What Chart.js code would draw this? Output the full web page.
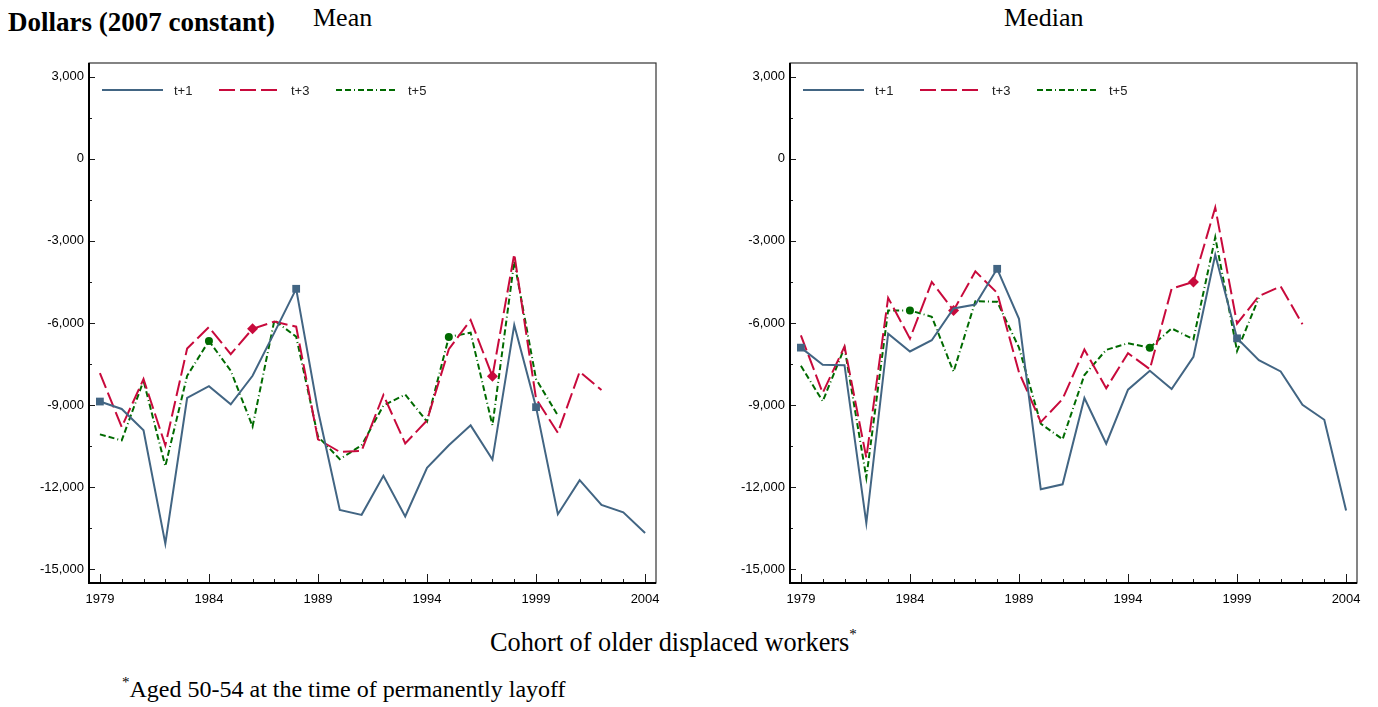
<!DOCTYPE html>
<html>
<head>
<meta charset="utf-8">
<script src="https://cdn.jsdelivr.net/npm/chart.js@4.4.1/dist/chart.umd.min.js"></script>
<style>
  html, body { margin: 0; padding: 0; background: #fff; }
  body { width: 1378px; height: 707px; position: relative; overflow: hidden;
         font-family: 'Liberation Serif', 'Times New Roman', serif; color: #000; }
  .txt { position: absolute; white-space: nowrap; line-height: 1; }
  .ast { font-size: 15px; position: relative; top: -12px; }
  .box { position: absolute; top: 0; width: 689px; height: 620px; }
</style>
</head>
<body>
<div class="txt" style="left:8px;top:9px;font-size:27px;font-weight:bold;">Dollars (2007 constant)</div>
<div class="txt" style="left:313px;top:5px;font-size:26px;">Mean</div>
<div class="txt" style="left:1004px;top:5px;font-size:26px;">Median</div>

<div class="box" style="left:0"><canvas id="meanChart"></canvas></div>
<div class="box" style="left:701px"><canvas id="medianChart"></canvas></div>

<div class="txt" style="left:490px;top:630px;font-size:26.3px;">Cohort of older displaced workers<span class="ast">*</span></div>
<div class="txt" style="left:122px;top:677px;font-size:24px;"><span class="ast" style="top:-10px">*</span>Aged 50-54 at the time of permanently layoff</div>

<script>
// cohort years and axis ticks
const years = [1979, 1980, 1981, 1982, 1983, 1984, 1985, 1986, 1987, 1988, 1989, 1990, 1991,
               1992, 1993, 1994, 1995, 1996, 1997, 1998, 1999, 2000, 2001, 2002, 2003, 2004];
const xTicks = [1979, 1984, 1989, 1994, 1999, 2004];
const yTicks = [-15000, -12000, -9000, -6000, -3000, 0, 3000];
const seriesLabels = ['t+1', 't+3', 't+5'];

// Mean (t+1 to 2004, t+3 to 2002, t+5 to 2000)
const meanT1 = [-8870, -9140, -9920, -14060, -8740, -8310, -8970, -7930, -6350, -4750, -9200, -12830, -13010,
                -11580, -13070, -11290, -10470, -9740, -10990, -6075, -9075, -12985, -11740, -12645, -12920, -13670];
const meanT3 = [-7830, -9800, -8050, -10470, -6935, -6150, -7140, -6210, -5950, -6135, -10250, -10710, -10670,
                -8630, -10400, -9560, -6960, -5890, -7950, -3475, -8770, -10010, -7780, -8450];
const meanT5 = [-10070, -10290, -8110, -11230, -7930, -6655, -7745, -9780, -5905, -6500, -10150, -10975, -10470,
                -9015, -8615, -9600, -6510, -6355, -9740, -3750, -8050, -9380];

// Median
const medianT1 = [-6900, -7530, -7540, -13310, -6390, -7040, -6630, -5470, -5325, -4020, -5845, -12075, -11895,
                  -8740, -10410, -8435, -7745, -8410, -7235, -3510, -6560, -7360, -7770, -8990, -9535, -12850];
const medianT3 = [-6450, -8555, -6860, -10925, -5080, -6570, -4500, -5540, -4115, -4900, -7800, -9620, -8775,
                  -6970, -8385, -7105, -7685, -4745, -4500, -1780, -6025, -5020, -4660, -6050];
const medianT5 = [-7565, -8860, -6900, -11650, -5540, -5540, -5770, -7780, -5205, -5225, -6900, -9680, -10250,
                  -7900, -6980, -6740, -6900, -6200, -6595, -2870, -7020, -5080];

// years that carry a marker on each series
const markT1 = [1979, 1988, 1999];
const markT3 = [1986, 1997];
const markT5 = [1984, 1995];

const tickFont = { family: "'Liberation Sans', Arial, sans-serif", size: 13 };

const toPoints = vals => vals.map((v, i) => ({ x: years[i], y: v }));

// inward ticks, frame and the legend inside the plot
const frameTicks = {
    id: 'frameTicks',
    afterDraw(chart) {
        const { ctx, chartArea: a, scales: { x, y } } = chart;
        ctx.save();
        ctx.strokeStyle = '#1a1a1a';
        ctx.lineWidth = 1;
        ctx.beginPath();
        for (let yr = years[0]; yr <= years[years.length - 1]; yr++) {
            const px = Math.round(x.getPixelForValue(yr)) + 0.5;
            const len = xTicks.includes(yr) ? 9 : 4;
            ctx.moveTo(px, a.bottom);
            ctx.lineTo(px, a.bottom - len);
        }
        for (let v = yTicks[0]; v <= yTicks[yTicks.length - 1]; v += 1500) {
            const py = Math.round(y.getPixelForValue(v)) + 0.5;
            const len = yTicks.includes(v) ? 6 : 3;
            ctx.moveTo(a.left, py);
            ctx.lineTo(a.left + len, py);
        }
        ctx.stroke();

        // thin frame, heavier axis lines
        ctx.lineWidth = 1.2;
        ctx.strokeStyle = '#333';
        ctx.strokeRect(a.left, a.top, a.right - a.left, a.bottom - a.top);
        ctx.lineWidth = 2;
        ctx.strokeStyle = '#000';
        ctx.beginPath();
        ctx.moveTo(a.left, a.top);
        ctx.lineTo(a.left, a.bottom);
        ctx.lineTo(a.right, a.bottom);
        ctx.stroke();

        // legend
        const ly = a.top + 27;
        ctx.font = "13px 'Liberation Sans', Arial, sans-serif";
        ctx.textBaseline = 'middle';
        chart.data.datasets.forEach((ds, i) => {
            const lx = a.left + 13 + i * 117;
            ctx.strokeStyle = ds.borderColor;
            ctx.lineWidth = 2;
            ctx.setLineDash(ds.borderDash || []);
            ctx.beginPath();
            ctx.moveTo(lx, ly);
            ctx.lineTo(lx + 61, ly);
            ctx.stroke();
            ctx.setLineDash([]);
            ctx.fillStyle = '#222';
            ctx.fillText(ds.label, lx + 72, ly + 1);
        });
        ctx.restore();
    }
};

function makeChart(id, t1, t3, t5) {
    const canvas = document.getElementById(id);
    const mark = (list, r) => c => (c.raw && list.includes(c.raw.x)) ? r : 0;
    return new Chart(canvas.getContext('2d'), {
        type: 'line',
        data: {
            datasets: [
                {
                    label: seriesLabels[0], data: toPoints(t1),
                    borderColor: '#426583', backgroundColor: '#426583', borderWidth: 2,
                    pointStyle: 'rect', pointRadius: mark(markT1, 5.5), pointBorderWidth: 0
                },
                {
                    label: seriesLabels[1], data: toPoints(t3),
                    borderColor: '#c80a3c', backgroundColor: '#c80a3c', borderWidth: 2, borderDash: [16, 5],
                    pointStyle: 'rectRot', pointRadius: mark(markT3, 5.5), pointBorderWidth: 0
                },
                {
                    label: seriesLabels[2], data: toPoints(t5),
                    borderColor: '#006a00', backgroundColor: '#006a00', borderWidth: 2, borderDash: [6, 3, 6, 3, 1, 3],
                    pointStyle: 'circle', pointRadius: mark(markT5, 4), pointBorderWidth: 0
                }
            ]
        },
        options: {
            responsive: true,
            maintainAspectRatio: false,
            animation: false,
            events: [],
            layout: { padding: { top: 63, right: 33, bottom: 7, left: 0 }, autoPadding: false },
            elements: { line: { tension: 0 } },
            plugins: { legend: { display: false }, tooltip: { enabled: false } },
            scales: {
                x: {
                    type: 'linear', min: 1978.5, max: 2004.5,
                    grid: { display: false, drawTicks: false },
                    border: { display: false },
                    afterBuildTicks: s => { s.ticks = xTicks.map(v => ({ value: v })); },
                    afterFit: s => { s.height = 30; },
                    ticks: { padding: 9, color: '#000', font: tickFont, maxRotation: 0, autoSkip: false,
                             callback: v => String(v) }
                },
                y: {
                    min: -15500, max: 3500,
                    grid: { display: false, drawTicks: false },
                    border: { display: false },
                    afterBuildTicks: s => { s.ticks = yTicks.map(v => ({ value: v })); },
                    afterFit: s => { s.width = 89; },
                    ticks: { padding: 5, color: '#000', font: tickFont,
                             callback: v => v.toLocaleString('en-US') }
                }
            }
        },
        plugins: [frameTicks]
    });
}

makeChart('meanChart', meanT1, meanT3, meanT5);
makeChart('medianChart', medianT1, medianT3, medianT5);
</script>
</body>
</html>
